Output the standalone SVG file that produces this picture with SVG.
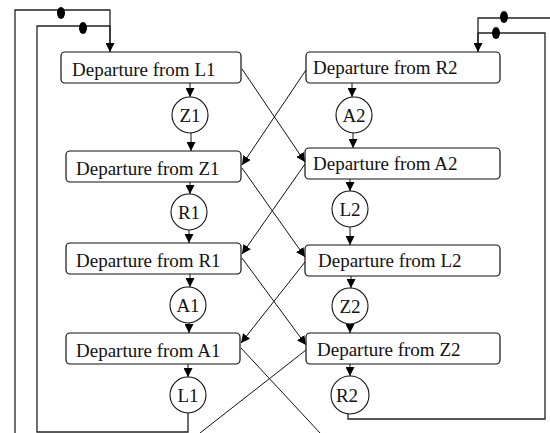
<svg xmlns="http://www.w3.org/2000/svg" width="550" height="433" viewBox="0 0 550 433">
<defs>
<marker id="ah" viewBox="0 0 10 10" refX="10" refY="5" markerWidth="9" markerHeight="9" markerUnits="userSpaceOnUse" orient="auto">
<path d="M0,0 L10,5 L0,10 z" fill="#000"/>
</marker>
<style>
.box{fill:#fff;stroke:#111;stroke-width:1.2}
.circ{fill:#fff;stroke:#111;stroke-width:1.1}
.t{font-family:"Liberation Serif","Times New Roman",serif;font-size:19px;fill:#111}
.c{font-family:"Liberation Serif","Times New Roman",serif;font-size:19px;fill:#111;text-anchor:middle}
.ln{fill:none;stroke:#111;stroke-width:1}
.lp{fill:none;stroke:#222;stroke-width:1.3}
.ar{marker-end:url(#ah)}
.dot{fill:#000}
</style>
</defs>
<rect width="550" height="433" fill="#fff"/>
<g id="connectors">
<path class="lp" d="M15,433 V10 H110 V44"/>
<path class="lp ar" d="M188,413 V432 H37 V26 H110 V52"/>
<ellipse class="dot" cx="61" cy="13" rx="4" ry="6"/>
<ellipse class="dot" cx="83" cy="28" rx="4" ry="6"/>
<path class="lp" d="M550,18 H478 V44"/>
<path class="lp ar" d="M348,413 V419 H545 V33 H478 V52"/>
<ellipse class="dot" cx="504" cy="17" rx="4" ry="6"/>
<ellipse class="dot" cx="496" cy="33" rx="4" ry="6"/>
<path class="ln ar" d="M190,83 V97"/>
<path class="ln ar" d="M191,133 V151"/>
<path class="ln ar" d="M190,182 V194"/>
<path class="ln ar" d="M189,230 V243"/>
<path class="ln ar" d="M190,274 V287"/>
<path class="ln ar" d="M189,323 V333"/>
<path class="ln ar" d="M188,364 V377"/>
<path class="ln ar" d="M352,83 V97"/>
<path class="ln ar" d="M353,133 V148"/>
<path class="ln ar" d="M350,179 V191"/>
<path class="ln ar" d="M350,227 V245"/>
<path class="ln ar" d="M351,276 V288"/>
<path class="ln ar" d="M350,324 V333"/>
<path class="ln ar" d="M350,364 V376"/>
<path class="ln ar" d="M242,69 L305,162"/>
<path class="ln ar" d="M306,70 L242,165"/>
<path class="ln ar" d="M242,168 L305,257"/>
<path class="ln ar" d="M305,164 L242,254"/>
<path class="ln ar" d="M242,258 L306,345"/>
<path class="ln ar" d="M305,262 L241,343"/>
<path class="ln" d="M241,348 L320,433"/>
<path class="ln" d="M306,350 L200,433"/>
</g>
<g id="depL1"><rect class="box" x="61" y="52" width="180" height="31" rx="4"/><text class="t" x="72" y="76">Departure from L1</text></g>
<g id="Z1"><circle class="circ" cx="190" cy="115" r="18"/><text class="c" x="190" y="121.5">Z1</text></g>
<g id="depZ1"><rect class="box" x="66" y="151" width="175" height="31" rx="4"/><text class="t" x="76" y="175">Departure from Z1</text></g>
<g id="R1"><circle class="circ" cx="189" cy="212" r="18"/><text class="c" x="189" y="218.5">R1</text></g>
<g id="depR1"><rect class="box" x="66" y="243" width="175" height="31" rx="4"/><text class="t" x="76" y="267">Departure from R1</text></g>
<g id="A1"><circle class="circ" cx="188" cy="305" r="18"/><text class="c" x="188" y="311.5">A1</text></g>
<g id="depA1"><rect class="box" x="66" y="333" width="174" height="31" rx="4"/><text class="t" x="76" y="357">Departure from A1</text></g>
<g id="L1"><circle class="circ" cx="188" cy="395" r="18"/><text class="c" x="188" y="401.5">L1</text></g>
<g id="depR2"><rect class="box" x="306" y="52" width="194" height="31" rx="4"/><text class="t" x="313" y="74">Departure from R2</text></g>
<g id="A2"><circle class="circ" cx="354" cy="115" r="18"/><text class="c" x="354" y="121.5">A2</text></g>
<g id="depA2"><rect class="box" x="305" y="148" width="195" height="31" rx="4"/><text class="t" x="313" y="170">Departure from A2</text></g>
<g id="L2"><circle class="circ" cx="350" cy="209" r="18"/><text class="c" x="350" y="215.5">L2</text></g>
<g id="depL2"><rect class="box" x="305" y="245" width="195" height="31" rx="4"/><text class="t" x="318" y="267">Departure from L2</text></g>
<g id="Z2"><circle class="circ" cx="350" cy="306" r="18"/><text class="c" x="350" y="312.5">Z2</text></g>
<g id="depZ2"><rect class="box" x="306" y="333" width="194" height="31" rx="4"/><text class="t" x="317" y="356">Departure from Z2</text></g>
<g id="R2"><circle class="circ" cx="350" cy="395" r="19"/><text class="c" x="347" y="401.5">R2</text></g>
</svg>
